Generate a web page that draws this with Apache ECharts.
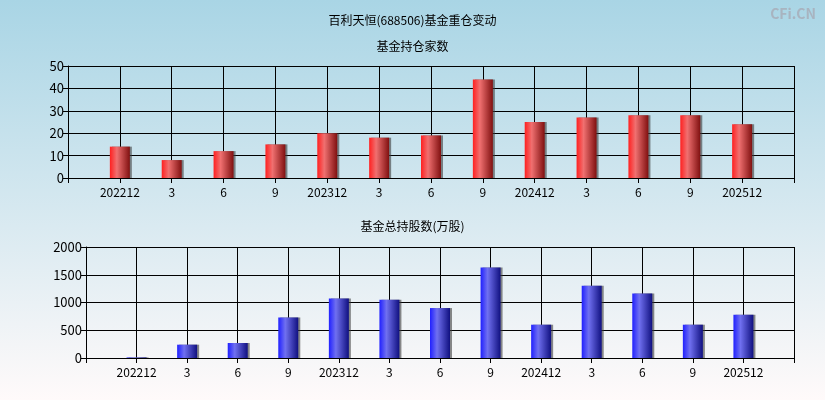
<!DOCTYPE html>
<html><head><meta charset="utf-8">
<script src="https://cdn.jsdelivr.net/npm/echarts@6/dist/echarts.min.js"></script>
<style>html,body{margin:0;padding:0}#c{width:825px;height:400px;background:linear-gradient(#a9d5e5,#fffafa)}</style>
</head><body><div id="c"></div>
<script>
var categories = ['202212','3','6','9','202312','3','6','9','202412','3','6','9','202512'];
var holders = [14, 8, 12, 15, 20, 18, 19, 44, 25, 27, 28, 28, 24];
var shares = [10, 240, 270, 730, 1070, 1050, 900, 1630, 600, 1300, 1160, 600, 780];

function pts(arr){ return arr.map(function(v,i){ return [i+1, v]; }); }
function barGrad(c1,c2,c3){
  return new echarts.graphic.LinearGradient(0,0,1,0,[{offset:0,color:c1},{offset:0.35,color:c2},{offset:1,color:c3}]);
}
var line = {lineStyle:{color:'#000',width:1}};
function xAxis(gi){
  return {type:'value',gridIndex:gi,min:0,max:14,interval:1,
    axisLine:{show:true,lineStyle:{color:'#000'}},
    axisTick:{show:true,length:5,lineStyle:{color:'#000'}},
    splitLine:line,
    axisLabel:{color:'#000',fontSize:12,margin:8,formatter:function(v){return categories[v-1]||'';}}};
}
function yAxis(gi,max,iv){
  return {type:'value',gridIndex:gi,min:0,max:max,interval:iv,
    axisLine:{show:true,lineStyle:{color:'#000'}},
    axisTick:{show:true,length:5,lineStyle:{color:'#000'}},
    splitLine:line,
    axisLabel:{color:'#000',fontSize:13,margin:4,formatter:function(v){return String(v);}}};
}
var chart = echarts.init(document.getElementById('c'));
chart.setOption({
  animation:false,
  textStyle:{fontFamily:'Noto Sans CJK SC'},
  title:[
    {text:'百利天恒(688506)基金重仓变动',left:'center',top:9,textStyle:{fontSize:12,fontWeight:'normal',color:'#000'}},
    {text:'基金持仓家数',left:'center',top:35,textStyle:{fontSize:12,fontWeight:'normal',color:'#000'}},
    {text:'基金总持股数(万股)',left:'center',top:215,textStyle:{fontSize:12,fontWeight:'normal',color:'#000'}},
    {text:'CFi.CN',right:4,top:2,textStyle:{fontSize:14,fontWeight:'bold',color:'#a8b4c0'}}
  ],
  grid:[
    {left:68,right:31,top:66,height:112},
    {left:86,right:31,top:247,height:111}
  ],
  xAxis:[xAxis(0),xAxis(1)],
  yAxis:[yAxis(0,50,10),yAxis(1,2000,500)],
  series:[
    {type:'bar',xAxisIndex:0,yAxisIndex:0,barWidth:20,data:pts(holders),
     itemStyle:{color:barGrad('#ff2020','#f07070','#801010'),shadowColor:'rgba(60,60,60,0.6)',shadowOffsetX:2}},
    {type:'bar',xAxisIndex:1,yAxisIndex:1,barWidth:20,data:pts(shares),
     itemStyle:{color:barGrad('#2020ff','#7070f0','#101080'),shadowColor:'rgba(60,60,60,0.6)',shadowOffsetX:2}}
  ]
});
</script></body></html>
